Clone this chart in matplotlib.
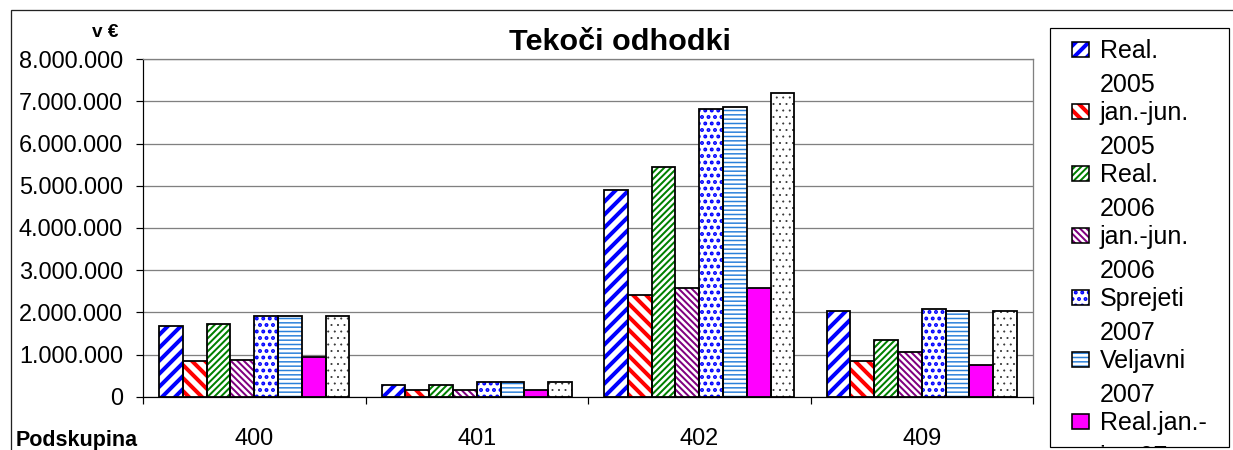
import matplotlib
matplotlib.use("Agg")
import matplotlib.pyplot as plt
from matplotlib.patches import Rectangle
from matplotlib.transforms import Bbox, TransformedBbox
import numpy as np

# dpi 78 keeps the hatch tiles close to the stripe spacing of the original
DPI = 78
W, H = 1233, 450

plt.rcParams['font.family'] = ['Liberation Sans', 'DejaVu Sans']

categories = ["400", "401", "402", "409"]
real_2005 = [1670000, 285000, 4890000, 2030000]
janjun_2005 = [840000, 160000, 2400000, 840000]
real_2006 = [1730000, 285000, 5440000, 1340000]
janjun_2006 = [880000, 160000, 2580000, 1060000]
sprejeti_2007 = [1910000, 340000, 6810000, 2080000]
veljavni_2007 = [1910000, 340000, 6870000, 2030000]
real_janjun_07 = [930000, 150000, 2580000, 740000]
series_8 = [1910000, 340000, 7190000, 2030000]
legend_labels = ["Real.\n2005", "jan.-jun.\n2005", "Real.\n2006", "jan.-jun.\n2006",
                 "Sprejeti\n2007", "Veljavni\n2007", "Real.jan.-\njun.07"]
y_ticks = [0, 1000000, 2000000, 3000000, 4000000, 5000000, 6000000, 7000000, 8000000]

series = [real_2005, janjun_2005, real_2006, janjun_2006,
          sprejeti_2007, veljavni_2007, real_janjun_07, series_8]
# (hatch, colour, hatch line width in px)
styles = [("//", "#0000FF", 4.0),
          ("\\\\", "#FF0000", 4.0),
          ("////", "#008000", 2.0),
          ("\\\\\\\\", "#800080", 2.0),
          ("..", "#0000FF", 2.6),
          ("---", "#2A80DA", 1.5),
          (None, "#FF00FF", 0),
          ("..", "#333333", 0.7)]


def pt(px):
    return px * 72.0 / DPI


def fx(x):
    return x / W


def fy(y):
    return 1 - y / H


def hatched(make, hlw):
    with plt.rc_context({'hatch.linewidth': pt(hlw) if hlw else 1.0}):
        arts = make()
    for a in arts:
        if hasattr(a, 'set_hatch_linewidth') and hlw:
            a.set_hatch_linewidth(pt(hlw))
    return arts


fig = plt.figure(figsize=(W / DPI, H / DPI), dpi=DPI)
ax = fig.add_axes([fx(143), fy(396.7), (1033 - 143) / W, (396.7 - 59.3) / H])

x = np.arange(len(categories)) + 0.5
n = len(series)
bw = 0.854 / n
for k, (vals, (hatch, col, hlw)) in enumerate(zip(series, styles)):
    xs = x + (k - (n - 1) / 2) * bw
    if hatch:
        hatched(lambda: ax.bar(xs, vals, bw, color='white', edgecolor=col,
                               hatch=hatch, linewidth=0, zorder=2), hlw)
    else:
        ax.bar(xs, vals, bw, color=col, linewidth=0, zorder=2)
    ax.bar(xs, vals, bw, fill=False, edgecolor='black', linewidth=pt(1.8), zorder=3)

ax.set_xlim(0, len(categories))
ax.set_ylim(0, 8000000)
ax.set_yticks(y_ticks)
ax.set_yticklabels([f"{v:,.0f}".replace(",", ".") for v in y_ticks])
ax.set_xticks(np.arange(len(categories) + 1))
ax.set_xticklabels([])
ax.set_xticks(x, minor=True)
ax.set_xticklabels(categories, minor=True)
ax.tick_params(axis='y', length=pt(7), width=pt(1.2), pad=pt(13), labelsize=pt(23.5))
ax.tick_params(axis='x', which='major', length=pt(7), width=pt(1.2))
ax.tick_params(axis='x', which='minor', length=0, pad=pt(31), labelsize=pt(23.5))

ax.yaxis.grid(True, color='#808080', linewidth=pt(1.3))
ax.set_axisbelow(True)
for s in ['top', 'right']:
    ax.spines[s].set_color('#808080')
    ax.spines[s].set_linewidth(pt(1.3))
for s in ['left', 'bottom']:
    ax.spines[s].set_color('black')
    ax.spines[s].set_linewidth(pt(1.2))

# chart area border (cut off by the picture at right and bottom)
fig.add_artist(Rectangle((fx(11), -0.2), 1.2, fy(10) + 0.2, transform=fig.transFigure,
                         fill=False, edgecolor='#222222', linewidth=pt(1.3)))

fig.text(fx(620), fy(50), "Tekoči odhodki", ha='center', va='baseline',
         fontsize=pt(30.5), fontweight='bold')
fig.text(fx(118), fy(37), "v €", ha='right', va='baseline',
         fontsize=pt(19), fontweight='bold')
fig.text(fx(16), fy(446), "Podskupina", ha='left', va='baseline',
         fontsize=pt(21.5), fontweight='bold')

# legend, drawn by hand so the keys sit on the first line and the last entry is cut off
lx0, lx1, ly0, ly1 = 1050, 1229, 28.3, 446.7
fig.add_artist(Rectangle((fx(lx0), fy(ly1)), (lx1 - lx0) / W, (ly1 - ly0) / H,
                         transform=fig.transFigure, fill=False,
                         edgecolor='black', linewidth=pt(1.2)))
clip = TransformedBbox(Bbox.from_extents(fx(lx0), fy(ly1), fx(lx1), fy(ly0)), fig.transFigure)
for i, (label, (hatch, col, hlw)) in enumerate(zip(legend_labels, styles)):
    top = 41.7 + 62 * i
    key = (fx(1072), fy(top + 15))
    if hatch:
        hatched(lambda: [fig.add_artist(Rectangle(key, 17 / W, 15 / H, transform=fig.transFigure,
                                                  facecolor='white', edgecolor=col,
                                                  hatch=hatch, linewidth=0))], hlw)
    else:
        fig.add_artist(Rectangle(key, 17 / W, 15 / H, transform=fig.transFigure,
                                 facecolor=col, linewidth=0))
    fig.add_artist(Rectangle(key, 17 / W, 15 / H, transform=fig.transFigure,
                             fill=False, edgecolor='black', linewidth=pt(1.6)))
    base = top + 16.6
    for j, line in enumerate(label.split("\n")):
        t = fig.text(fx(1100), fy(base + 34 * j), line, ha='left', va='baseline',
                     fontsize=pt(25))
        t.set_clip_box(clip)
        t.set_clip_on(True)

fig.savefig("out.png", dpi=DPI)
